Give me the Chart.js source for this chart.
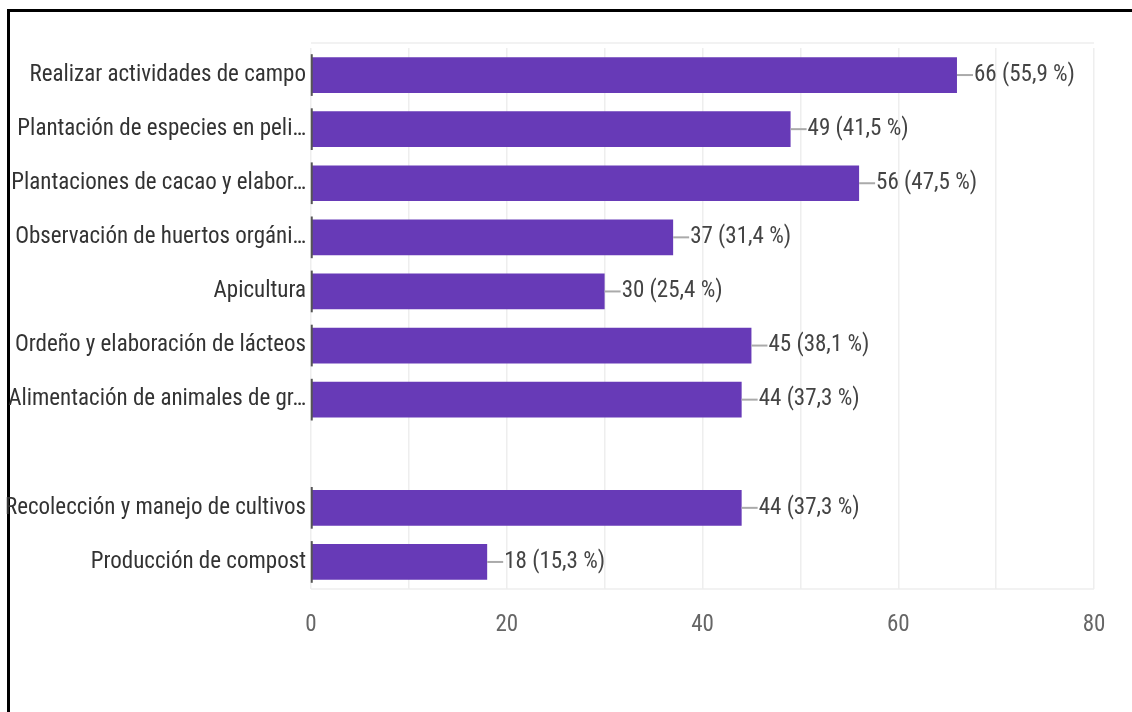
<!DOCTYPE html>
<html>
<head>
<meta charset="utf-8">
<script src="https://cdn.jsdelivr.net/npm/chart.js@4/dist/chart.umd.min.js"></script>
<style>
  html, body { margin: 0; padding: 0; background: #fff; overflow: hidden; }
  #frame { position: absolute; left: 7px; top: 9px; width: 1300px; height: 900px;
           border-top: 3px solid #000; border-left: 3px solid #000; }
  #wrap { position: absolute; left: 0; top: 0; width: 1132px; height: 712px; }
</style>
</head>
<body>
<div id="frame"></div>
<div id="wrap"><canvas id="chart-area" width="1132" height="712"></canvas></div>
<script>
var categories = [
    'Realizar actividades de campo',
    'Plantación de especies en peli…',
    'Plantaciones de cacao y elabor…',
    'Observación de huertos orgáni…',
    'Apicultura',
    'Ordeño y elaboración de lácteos',
    'Alimentación de animales de gr…',
    '',
    'Recolección y manejo de cultivos',
    'Producción de compost'
];
var counts = [66, 49, 56, 37, 30, 45, 44, null, 44, 18];
var percents = ['55,9', '41,5', '47,5', '31,4', '25,4', '38,1', '37,3', null, '37,3', '15,3'];
var xTicks = [0, 20, 40, 60, 80];

var FONT = '"Liberation Sans Narrow", "Roboto Condensed", "Liberation Sans", sans-serif';

var barDecor = {
    id: 'barDecor',
    afterDatasetsDraw: function (chart) {
        var ctx = chart.ctx;
        var meta = chart.getDatasetMeta(0);
        ctx.save();
        meta.data.forEach(function (bar, i) {
            if (counts[i] === null) return;
            var props = bar.getProps(['x', 'y', 'base', 'height'], true);
            var top = props.y - props.height / 2;
            var bottom = props.y + props.height / 2;
            // baseline mark at the axis
            ctx.strokeStyle = '#555';
            ctx.lineWidth = 2;
            ctx.beginPath();
            ctx.moveTo(props.base, top - 3);
            ctx.lineTo(props.base, bottom + 3);
            ctx.stroke();
            // leader line and value label
            ctx.strokeStyle = '#aaa';
            ctx.lineWidth = 2;
            ctx.beginPath();
            ctx.moveTo(props.x, props.y);
            ctx.lineTo(props.x + 16, props.y);
            ctx.stroke();
            ctx.fillStyle = '#444';
            ctx.font = '23px ' + FONT;
            ctx.textAlign = 'left';
            ctx.textBaseline = 'middle';
            ctx.fillText(counts[i] + ' (' + percents[i] + ' %)', props.x + 17, props.y);
        });
        ctx.restore();
    },
    beforeDatasetsDraw: function (chart) {
        var a = chart.chartArea;
        var ctx = chart.ctx;
        ctx.save();
        ctx.strokeStyle = '#eeeeee';
        ctx.lineWidth = 1.5;
        ctx.beginPath();
        ctx.moveTo(a.left, a.top - 5);
        ctx.lineTo(a.right, a.top - 5);
        ctx.moveTo(a.left, a.bottom);
        ctx.lineTo(a.right, a.bottom);
        ctx.stroke();
        ctx.restore();
    }
};

var ctx = document.getElementById('chart-area').getContext('2d');
var config = {
    type: 'bar',
    data: {
        labels: categories,
        datasets: [{
            data: counts,
            backgroundColor: '#673ab7',
            barPercentage: 0.66,
            categoryPercentage: 1.0
        }]
    },
    options: {
        indexAxis: 'y',
        responsive: false,
        animation: false,
        layout: { padding: { top: 48, right: 38, left: 0, bottom: 0 } },
        plugins: {
            legend: { display: false },
            tooltip: { enabled: false }
        },
        scales: {
            x: {
                min: 0,
                max: 80,
                grid: { color: '#eeeeee', lineWidth: 1.5, drawTicks: false },
                border: { display: false },
                ticks: {
                    stepSize: 10,
                    padding: 22,
                    color: '#666',
                    font: { family: FONT, size: 23 },
                    callback: function (v) { return xTicks.indexOf(v) >= 0 ? v : ''; }
                },
                afterFit: function (scale) { scale.height = 123; }
            },
            y: {
                grid: { display: false, drawTicks: false },
                border: { display: false },
                ticks: {
                    padding: 5,
                    color: '#333',
                    autoSkip: false,
                    font: { family: FONT, size: 23 }
                },
                afterFit: function (scale) { scale.width = 311; }
            }
        }
    },
    plugins: [barDecor]
};
var chart = new Chart(ctx, config);
</script>
</body>
</html>
